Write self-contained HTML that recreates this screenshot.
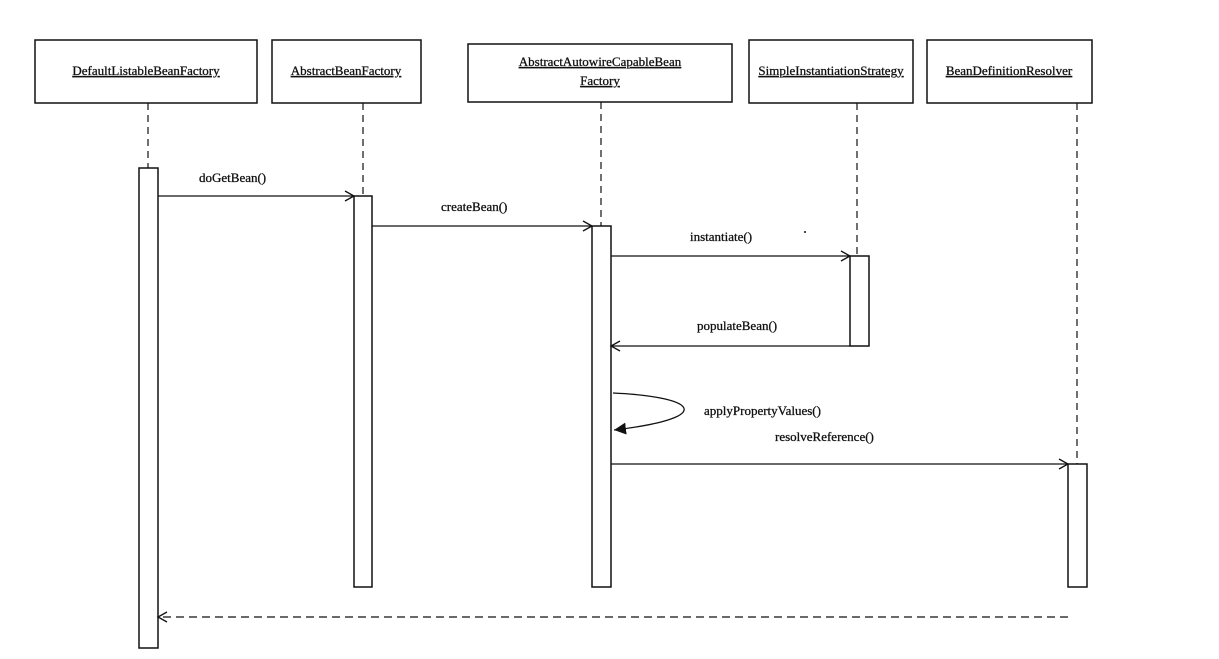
<!DOCTYPE html>
<html><head><meta charset="utf-8"><style>
html,body{margin:0;padding:0;background:#fff;}
svg{display:block;}
text{font-family:"Liberation Serif",serif;font-size:13px;fill:#111;stroke:#111;stroke-width:0.3;}
</style></head><body>
<svg width="1219" height="659" viewBox="0 0 1219 659" xmlns="http://www.w3.org/2000/svg">
<defs>
<marker id="o" markerWidth="12" markerHeight="12" refX="10" refY="6" orient="auto" markerUnits="userSpaceOnUse"><path d="M1,1 L10,6 L1,11" fill="none" stroke="#111" stroke-width="1.3"/></marker>
<marker id="f" markerWidth="14" markerHeight="12" refX="12" refY="6" orient="auto" markerUnits="userSpaceOnUse"><path d="M0,0 L12,6 L0,12 z" fill="#111"/></marker>
</defs>
<g stroke="#111" stroke-width="1.5" fill="#fff">
<rect x="35" y="40" width="222" height="63"/>
<rect x="272" y="40" width="149" height="63"/>
<rect x="468" y="44" width="264" height="58"/>
<rect x="749" y="40" width="164" height="63"/>
<rect x="927" y="40" width="165" height="63"/>
</g>
<text x="146" y="75" text-anchor="middle" text-decoration="underline">DefaultListableBeanFactory</text>
<text x="346" y="75" text-anchor="middle" text-decoration="underline">AbstractBeanFactory</text>
<text x="600" y="66" text-anchor="middle" text-decoration="underline">AbstractAutowireCapableBean</text>
<text x="600" y="85" text-anchor="middle" text-decoration="underline">Factory</text>
<text x="831" y="75" text-anchor="middle" text-decoration="underline">SimpleInstantiationStrategy</text>
<text x="1009" y="75" text-anchor="middle" text-decoration="underline">BeanDefinitionResolver</text>
<g stroke="#111" stroke-width="1.2" stroke-dasharray="7,5" fill="none">
<line x1="148" y1="103" x2="148" y2="168"/>
<line x1="363" y1="103" x2="363" y2="196"/>
<line x1="601" y1="102" x2="601" y2="226"/>
<line x1="857" y1="103" x2="857" y2="256"/>
<line x1="1077" y1="103" x2="1077" y2="464"/>
</g>
<g stroke="#111" stroke-width="1.5" fill="#fff">
<rect x="139" y="168" width="19" height="480"/>
<rect x="354" y="196" width="18" height="391"/>
<rect x="592" y="226" width="19" height="361"/>
<rect x="850" y="256" width="19" height="90"/>
<rect x="1068" y="464" width="19" height="123"/>
</g>
<g stroke="#111" stroke-width="1.3" fill="none">
<line x1="158" y1="196" x2="354" y2="196" marker-end="url(#o)"/>
<line x1="372" y1="226" x2="592" y2="226" marker-end="url(#o)"/>
<line x1="611" y1="256" x2="850" y2="256" marker-end="url(#o)"/>
<line x1="850" y1="346" x2="611" y2="346" marker-end="url(#o)"/>
<path d="M613,393 C700,397 715,418 614,430" marker-end="url(#f)"/>
<line x1="611" y1="464" x2="1068" y2="464" marker-end="url(#o)"/>
<line x1="1068" y1="617" x2="158" y2="617" stroke-dasharray="8,5" marker-end="url(#o)"/>
</g>
<text x="199" y="182">doGetBean()</text>
<text x="441" y="211">createBean()</text>
<text x="690" y="241">instantiate()</text>
<text x="697" y="330">populateBean()</text>
<text x="704" y="415">applyPropertyValues()</text>
<text x="775" y="441">resolveReference()</text>
<circle cx="805" cy="232" r="1" fill="#111"/>
</svg>
</body></html>
